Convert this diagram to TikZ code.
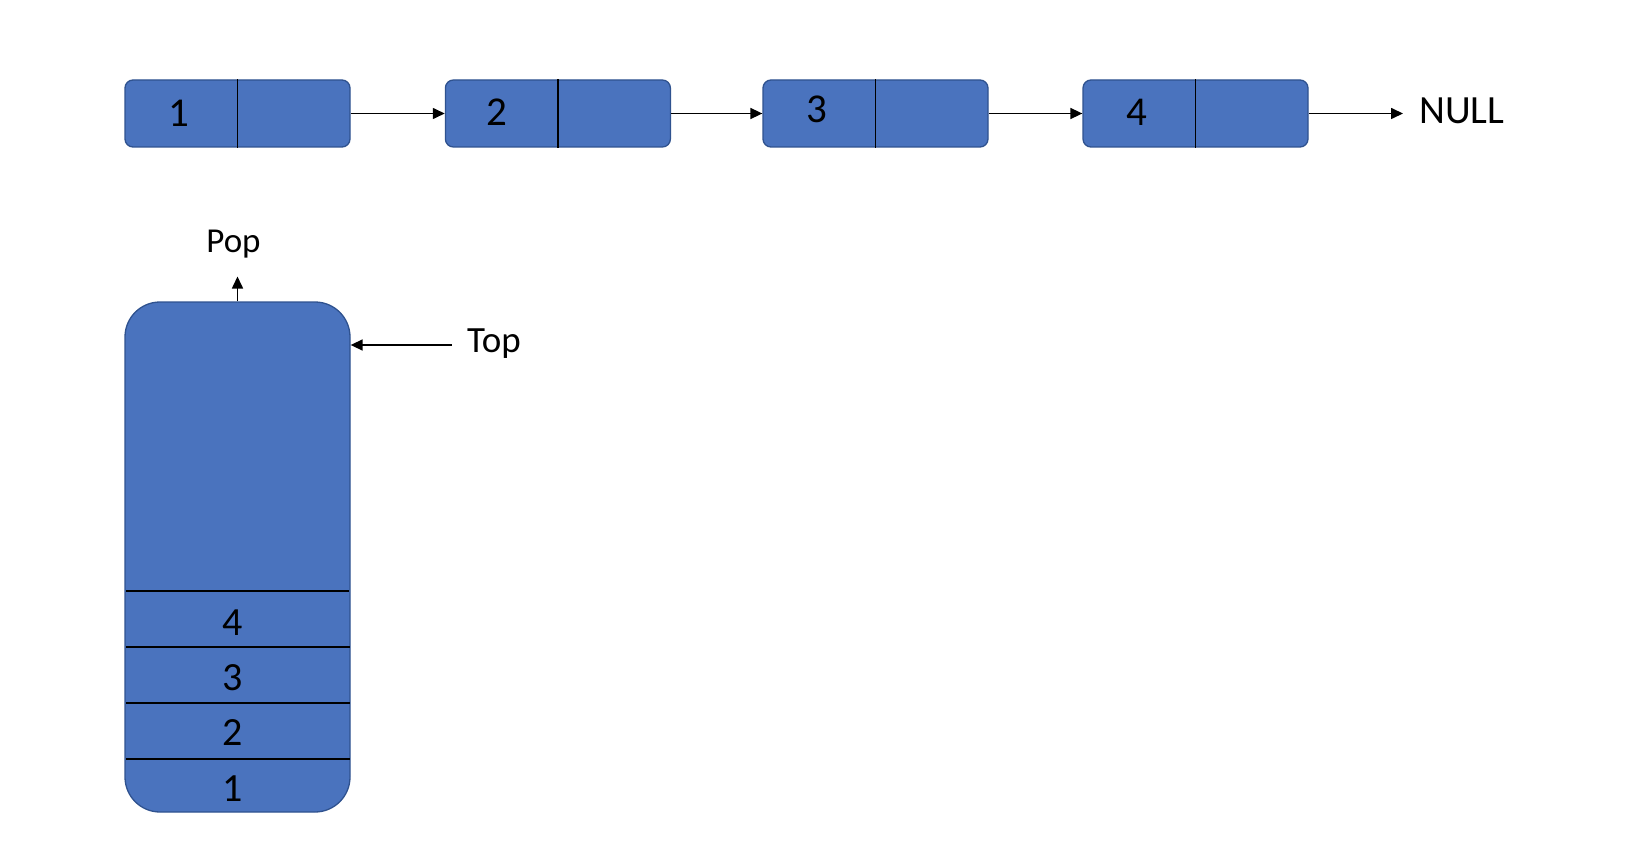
\documentclass[tikz,border=0pt]{standalone}
\usepackage{fontspec}
\setmainfont{Carlito}
\usetikzlibrary{arrows.meta}
\definecolor{boxfill}{RGB}{74,115,190}
\definecolor{boxline}{RGB}{47,82,143}
\begin{document}
\begin{tikzpicture}[x=1pt,y=-1pt,
  llbox/.style={draw=boxline, line width=1.3pt, fill=boxfill, rounded corners=8pt,
    minimum width=225pt, minimum height=67pt, inner sep=0pt},
  stackbox/.style={draw=boxline, line width=1.3pt, fill=boxfill, rounded corners=35pt,
    minimum width=225pt, minimum height=510pt, inner sep=0pt},
  divider/.style={draw=black, line width=1.6pt},
  arr/.style={draw=black, line width=1.6pt, -{Triangle[length=12pt,width=11pt]}},
  boxnum/.style={anchor=base, inner sep=0pt, font=\fontsize{41}{41}\selectfont},
  stacknum/.style={anchor=base, inner sep=0pt, font=\fontsize{40}{40}\selectfont},
  lbl/.style={anchor=base, inner sep=0pt}
]
\useasboundingbox (0,0) rectangle (1628,864);

% linked list
\node[llbox] (n1) at (237.5,113.5) {};
\node[llbox] (n2) at (557.9,113.5) {};
\node[llbox] (n3) at (875.5,113.5) {};
\node[llbox] (n4) at (1195.5,113.5) {};
\foreach \n in {n1,n2,n3,n4}{\draw[divider] (\n.north) -- (\n.south);}
\node[boxnum] (v1) at (179,126.5) {1};
\node[boxnum] (v2) at (497,126) {2};
\node[boxnum] (v3) at (817,122.5) {3};
\node[boxnum] (v4) at (1136.5,126) {4};
\node[lbl, anchor=base west, font=\fontsize{40}{40}\selectfont] (null) at (1419,123.5) {NULL};
\coordinate (nullend) at (1403,113.5);
\draw[arr] (n1.east) -- (n2.west);
\draw[arr] (n2.east) -- (n3.west);
\draw[arr] (n3.east) -- (n4.west);
\draw[arr] (n4.east) -- (nullend);

% stack
\node[stackbox] (stack) at (237.5,557) {};
\draw[divider] (126,590.7) -- (349,590.7);
\draw[divider] (126,646.7) -- (349.5,646.7);
\draw[divider] (126,702.7) -- (349.5,702.7);
\draw[divider] (126,758.7) -- (349.5,758.7);
\node[stacknum] (s4) at (233,635.5) {4};
\node[stacknum] (s3) at (233,690) {3};
\node[stacknum] (s2) at (233,745) {2};
\node[stacknum] (s1) at (233,801) {1};

\node[lbl, font=\fontsize{35}{35}\selectfont] (pop) at (233.5,252) {Pop};
\coordinate (popend) at (237.5,276.5);
\draw[arr] (stack.north) -- (popend);

\node[lbl, anchor=base west, font=\fontsize{37}{37}\selectfont] (top) at (467,352.5) {Top};
\coordinate (topstart) at (451.5,345);
\draw[arr] (topstart) -- (topstart -| stack.east);
\end{tikzpicture}
\end{document}
